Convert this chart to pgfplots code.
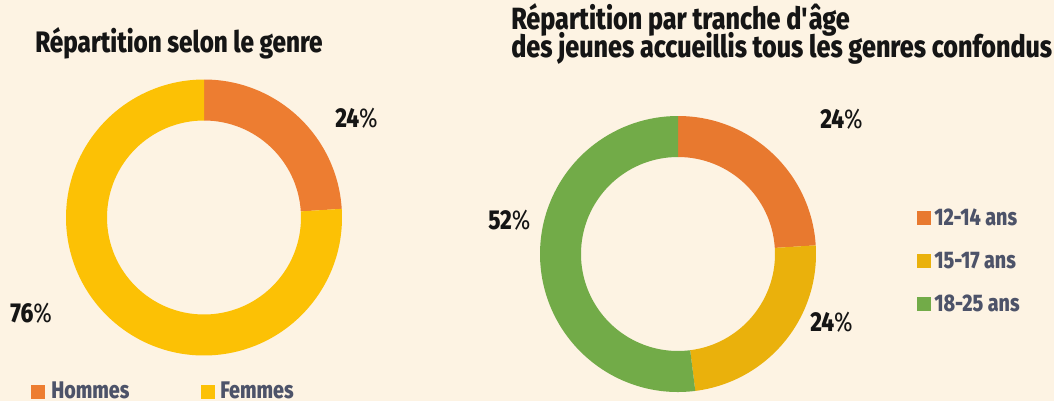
\documentclass[border=0pt]{standalone}
\usepackage{pgfplots}
\pgfplotsset{compat=1.18}
\usepackage{fontspec}
\setmainfont{Fira Sans}[FakeStretch=0.82, BoldFont={Fira Sans ExtraBold}]

\definecolor{bg}{HTML}{FDF3E3}
\definecolor{cOrange}{HTML}{ED7D31}
\definecolor{cOrangeB}{HTML}{E8792F}
\definecolor{cYellow}{HTML}{FCC105}
\definecolor{cGold}{HTML}{EAB10C}
\definecolor{cGreen}{HTML}{72AB48}
\definecolor{ink}{HTML}{151515}
\definecolor{legtxt}{HTML}{4D5369}

% shares (%)
\def\hommes{24}
\def\femmes{76}
\def\ageA{24}
\def\ageB{24}
\def\ageC{52}

% slice angles, clockwise from the top
\pgfmathsetmacro\gA{90}
\pgfmathsetmacro\gB{90-3.6*\hommes}
\pgfmathsetmacro\gC{\gB-3.6*\femmes}
\pgfmathsetmacro\aA{90}
\pgfmathsetmacro\aB{90-3.6*\ageA}
\pgfmathsetmacro\aC{\aB-3.6*\ageB}
\pgfmathsetmacro\aD{\aC-3.6*\ageC}

% ring segment: cx, cy (axis units), start, end, colour
\newcommand\ring[5]{%
  \fill[#5] (axis cs:#1,#2) ++(#3:103.5pt) arc[start angle=#3, end angle=#4, radius=103.5pt]
    -- ++(#4+180:30.75pt) arc[start angle=#4, end angle=#3, radius=72.75pt] -- cycle;}

\begin{document}
\begin{tikzpicture}
\begin{axis}[
    hide axis,
    x=0.75pt, y=0.75pt,
    xmin=0, xmax=1054, ymin=0, ymax=401,
    clip=false,
]
\fill[bg] (axis cs:0,0) rectangle (axis cs:1054,401);
\coordinate (BL) at (axis cs:0,0);
\coordinate (TR) at (axis cs:1054,401);

% gender donut
\ring{204}{183.5}{\gA}{\gB}{cOrange}
\ring{204}{183.5}{\gB}{\gC}{cYellow}

% age donut
\ring{678}{147}{\aA}{\aB}{cOrangeB}
\ring{678}{147}{\aB}{\aC}{cGold}
\ring{678}{147}{\aC}{\aD}{cGreen}

% titles
\begin{scope}[every node/.style={anchor=base west, inner sep=0pt, text=ink}]
\node[font=\fontsize{22.2}{24}\selectfont\bfseries] at (axis cs:35,349) {Répartition selon le genre};
\node[font=\fontsize{23}{24}\selectfont\bfseries] at (axis cs:511,371) {Répartition par tranche d\textquotesingle âge};
\node[font=\fontsize{23}{24}\selectfont\bfseries] at (axis cs:511,343.5) {des jeunes accueillis tous les genres confondus};
\end{scope}

% value labels
\begin{scope}[every node/.style={anchor=base west, inner sep=0pt, text=ink, font=\fontsize{20.5}{22}\selectfont}]
\node at (axis cs:335,273.5) {\textbf{\hommes}\%};
\node at (axis cs:10,79) {\textbf{\femmes}\%};
\node at (axis cs:820,273) {\textbf{\ageA}\%};
\node at (axis cs:810,70) {\textbf{\ageB}\%};
\node at (axis cs:488,172) {\textbf{\ageC}\%};
\end{scope}

% legends
\begin{scope}[every node/.style={anchor=base west, inner sep=0pt, text=legtxt, font=\fontsize{18}{20}\selectfont\bfseries}]
\fill[cOrange] (axis cs:31,2) rectangle (axis cs:45,16);
\node at (axis cs:51,3) {Hommes};
\fill[cYellow] (axis cs:201,2) rectangle (axis cs:215,16);
\node at (axis cs:220,3) {Femmes};
\fill[cOrangeB] (axis cs:917,176) rectangle (axis cs:931,190);
\node at (axis cs:934,176) {12-14 ans};
\fill[cGold] (axis cs:917,133) rectangle (axis cs:931,147);
\node at (axis cs:934,133) {15-17 ans};
\fill[cGreen] (axis cs:917,90) rectangle (axis cs:931,104);
\node at (axis cs:934,90) {18-25 ans};
\end{scope}
\end{axis}
\pgfresetboundingbox
\path[use as bounding box] (BL) rectangle (TR);
\end{tikzpicture}
\end{document}
